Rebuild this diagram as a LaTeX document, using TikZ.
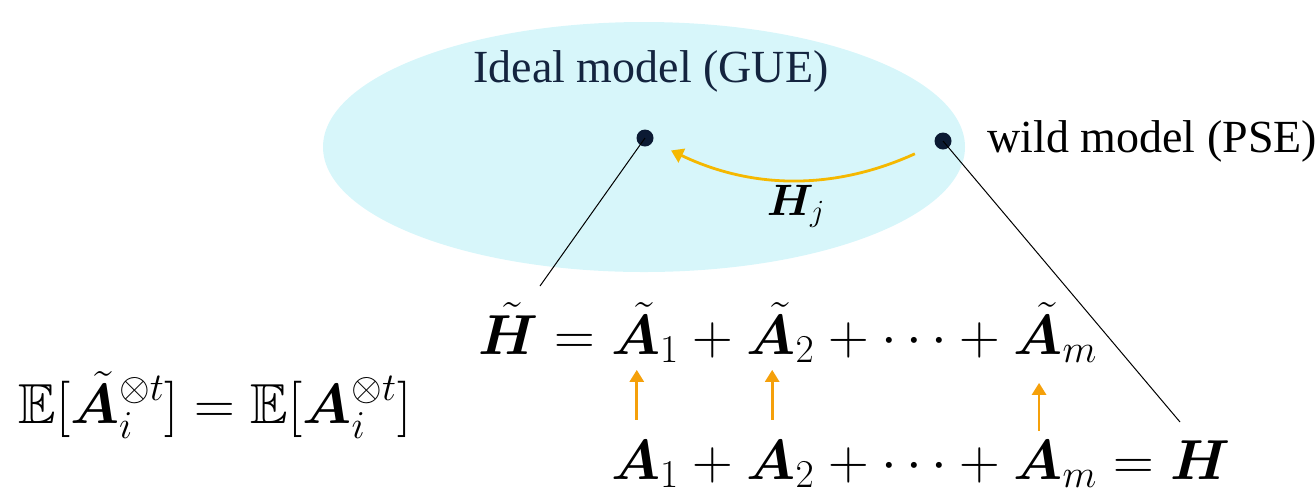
\documentclass[tikz,border=0pt]{standalone}
\usepackage{fix-cm}
\usepackage{amsmath,amssymb,bm}
\usepackage{fontspec}
\newfontfamily\labelfont{Liberation Serif}
\usepackage{tikz}
\usetikzlibrary{arrows.meta, positioning, shapes.geometric, calc}
\definecolor{idealfill}{HTML}{D7F6FA}
\definecolor{idealtext}{HTML}{14243F}
\definecolor{dotnavy}{HTML}{0B1A33}
\definecolor{hjyellow}{HTML}{F5B800}
\definecolor{liftorange}{HTML}{F5A00A}

\begin{document}
\begin{tikzpicture}[
    x=0.5pt, y=-0.5pt,
    eq/.style={inner sep=0pt, font=\fontsize{28.2}{33}\selectfont},
    modeltext/.style={inner sep=0pt, font=\labelfont\fontsize{23}{28}\selectfont},
    modelpt/.style={circle, fill=dotnavy, inner sep=0pt, minimum size=8.5pt},
    hjarrow/.style={-{Triangle[length=6pt,width=7.5pt]}, hjyellow, line width=1.4pt},
    lift/.style={-{Triangle[length=6pt,width=7pt]}, liftorange, line width=1.4pt},
    leader/.style={black, line width=0.5pt},
]
\useasboundingbox (0,0) rectangle (1316,489);

% ================= MODEL SPACE =================
\node[ellipse, fill=idealfill, minimum width=321pt, minimum height=125pt, inner sep=0pt] (ideal) at (644,147) {};
\node[modeltext, text=idealtext, anchor=base] (gue) at (651,82) {Ideal model (GUE)};

\node[modelpt] (idealpt) at (645,138) {};
\node[modelpt] (wildpt) at (943,141) {};
\node[modeltext, anchor=base west] (wild) at (987,152) {wild model (PSE)};

\draw[hjarrow, shorten <=11pt, shorten >=10pt] (wildpt) to[bend left=25] (idealpt);
\node[eq, font=\fontsize{22}{26}\selectfont, anchor=base] (hj) at (796,215) {$\bm{H}_j$};

% ================= SUMS =================
\node[eq, anchor=base west] (hteq) at (478,354) {$\tilde{\bm H} = {}$};
\node[eq, anchor=base west] (ta1) at (hteq.base east) {$\tilde{\bm A}_1$};
\node[eq, anchor=base west] (tp1) at (ta1.base east) {${} + {}$};
\node[eq, anchor=base west] (ta2) at (tp1.base east) {$\tilde{\bm A}_2$};
\node[eq, anchor=base west] (tdots) at (ta2.base east) {${} + \cdots + {}$};
\node[eq, anchor=base west] (tam) at (tdots.base east) {$\tilde{\bm A}_m$};

\coordinate (brow) at (0,479);
\node[eq, anchor=base west] (ba1) at (ta1.base west |- brow) {$\bm A_1$};
\node[eq, anchor=base west] (bp1) at (ba1.base east) {${} + {}$};
\node[eq, anchor=base west] (ba2) at (bp1.base east) {$\bm A_2$};
\node[eq, anchor=base west] (bdots) at (ba2.base east) {${} + \cdots + {}$};
\node[eq, anchor=base west] (bam) at (bdots.base east) {$\bm A_m$};
\node[eq, anchor=base west] (bh) at (bam.base east) {${} = \bm H$};

% arrows sit over the letter A, not over the subscript
\foreach \t/\b/\s/\e in {ta1/ba1/10pt/3.5pt, ta2/ba2/10pt/3.5pt, tam/bam/4.5pt/10pt} {
    \coordinate (ax) at ($(\b.base west)+(26,0)$);
    \draw[lift, shorten <=\s, shorten >=\e] (ax |- \b.north) -- (ax |- \t.south);
}

\node[eq, anchor=base west] (moment) at (18,423) {$\mathbb{E}[\tilde{\bm A}_i^{\otimes t}] = \mathbb{E}[\bm A_i^{\otimes t}]$};

% leaders to the two sums
\coordinate (htfoot) at (540,286);
\coordinate (hfoot) at (1180,422);
\draw[leader] (idealpt.center) -- (htfoot);
\draw[leader] (wildpt.center) -- (hfoot);

\end{tikzpicture}
\end{document}
